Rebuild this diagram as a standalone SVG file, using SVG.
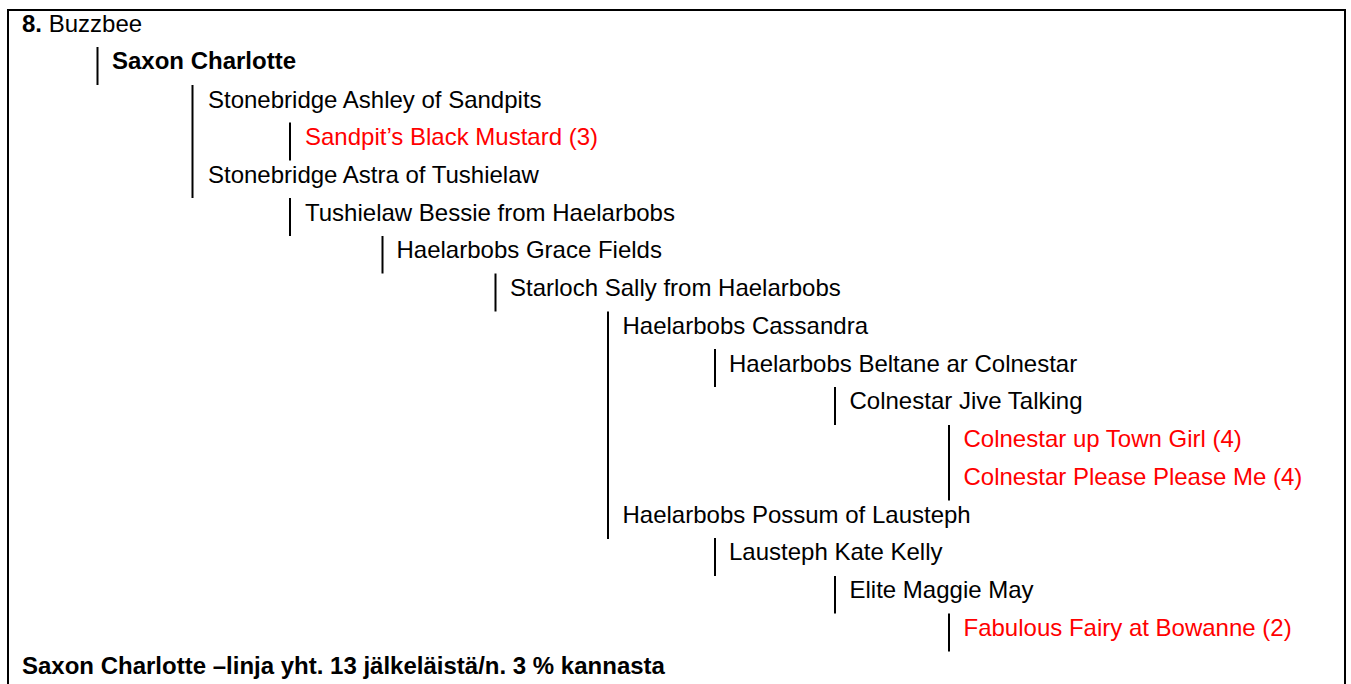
<svg xmlns="http://www.w3.org/2000/svg" width="1351" height="684" viewBox="0 0 1351 684">
<style>
text{font-family:"Liberation Sans",Arial,sans-serif;font-size:24px;fill:#000}
.b{font-weight:bold}
.r{fill:#FF0000}
.bar{stroke:#000;stroke-width:2;fill:none}
.frame{stroke:#000;stroke-width:2;fill:none}
</style>
<rect width="1351" height="684" fill="#fff"/>
<path class="frame" d="M8,690 V10 H1345 V690"/>
<g id="connectors">
<line class="bar" x1="97.5" y1="47" x2="97.5" y2="85"/>
<line class="bar" x1="192.5" y1="85" x2="192.5" y2="198"/>
<line class="bar" x1="290" y1="122.5" x2="290" y2="160.5"/>
<line class="bar" x1="290" y1="198" x2="290" y2="236"/>
<line class="bar" x1="382.5" y1="236" x2="382.5" y2="273.5"/>
<line class="bar" x1="495.5" y1="273.5" x2="495.5" y2="311.5"/>
<line class="bar" x1="608" y1="311.5" x2="608" y2="539"/>
<line class="bar" x1="715" y1="349" x2="715" y2="387"/>
<line class="bar" x1="835" y1="387" x2="835" y2="425"/>
<line class="bar" x1="949" y1="425" x2="949" y2="500.5"/>
<line class="bar" x1="715" y1="538" x2="715" y2="576"/>
<line class="bar" x1="835" y1="576" x2="835" y2="613.5"/>
<line class="bar" x1="949" y1="613.5" x2="949" y2="651.5"/>
</g>
<g id="n0"><text x="22" y="31.5"><tspan class="b">8.</tspan> Buzzbee</text></g>
<g id="n1"><text class="b" x="112" y="69">Saxon Charlotte</text></g>
<g id="n2"><text x="208" y="107.5">Stonebridge Ashley of Sandpits</text></g>
<g id="n3"><text class="r" x="305" y="145">Sandpit’s Black Mustard (3)</text></g>
<g id="n4"><text x="208" y="182.8">Stonebridge Astra of Tushielaw</text></g>
<g id="n5"><text x="305" y="220.5">Tushielaw Bessie from Haelarbobs</text></g>
<g id="n6"><text x="396.5" y="258.3">Haelarbobs Grace Fields</text></g>
<g id="n7"><text x="510" y="296">Starloch Sally from Haelarbobs</text></g>
<g id="n8"><text x="622.5" y="333.8">Haelarbobs Cassandra</text></g>
<g id="n9"><text x="729" y="371.5">Haelarbobs Beltane ar Colnestar</text></g>
<g id="n10"><text x="849.5" y="409.3">Colnestar Jive Talking</text></g>
<g id="n11"><text class="r" x="963.5" y="447">Colnestar up Town Girl (4)</text></g>
<g id="n12"><text class="r" x="963.5" y="484.8">Colnestar Please Please Me (4)</text></g>
<g id="n13"><text x="622.5" y="522.5">Haelarbobs Possum of Lausteph</text></g>
<g id="n14"><text x="729" y="560.3">Lausteph Kate Kelly</text></g>
<g id="n15"><text x="849.5" y="598">Elite Maggie May</text></g>
<g id="n16"><text class="r" x="963.5" y="635.8">Fabulous Fairy at Bowanne (2)</text></g>
<g id="footer"><text class="b" x="22" y="673.5">Saxon Charlotte –linja yht. 13 jälkeläistä/n. 3 % kannasta</text></g>
</svg>
